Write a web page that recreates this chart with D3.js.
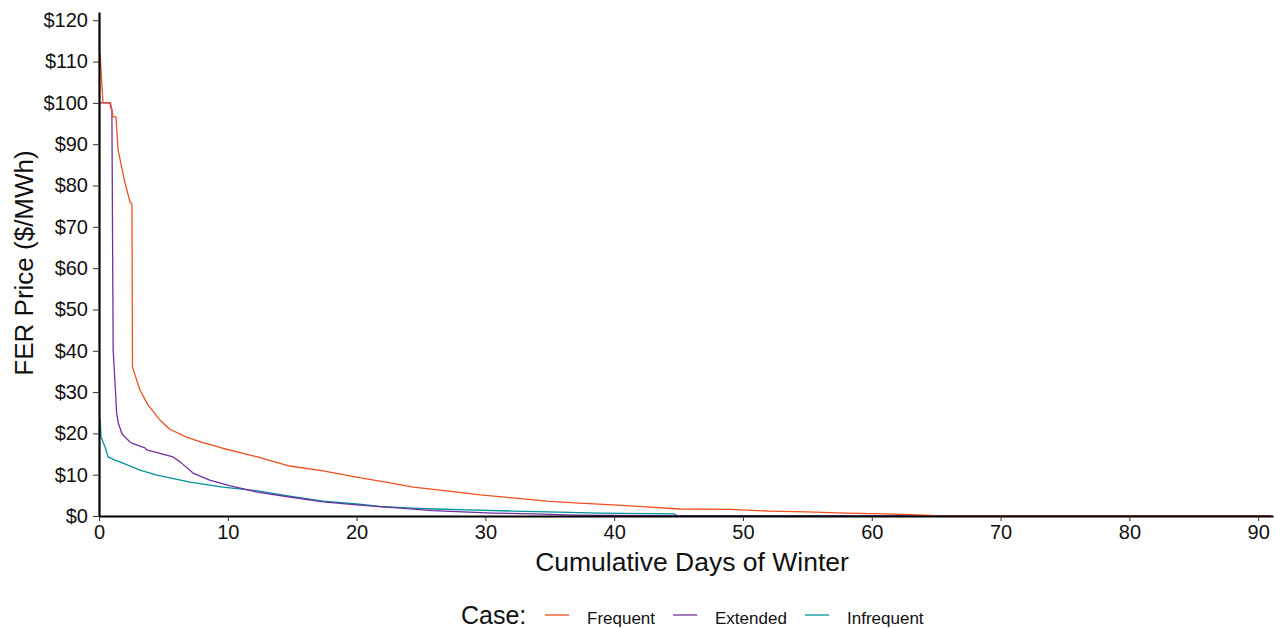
<!DOCTYPE html>
<html>
<head>
<meta charset="utf-8">
<script src="https://cdn.jsdelivr.net/npm/d3@7/dist/d3.min.js"></script>
<style>
  html, body { margin: 0; padding: 0; background: #fff; }
  svg { display: block; font-family: "Liberation Sans", Arial, sans-serif; }
</style>
</head>
<body>
<svg id="chart" width="1275" height="628"></svg>
<script>
// Price duration curves: cumulative days of winter vs FER price ($/MWh)
const caseNames = ["Frequent", "Extended", "Infrequent"];
const caseColors = ["#F0501E", "#7030A0", "#00929A"];

const frequentDays   = [0, 0.08, 0.31, 0.9, 1.09, 1.32, 1.48, 2.02, 2.41, 2.56, 2.6, 2.8, 3.18, 3.8, 4.74, 5.5, 6.8, 8.0, 9.6, 12.3, 14.8, 17.4, 20, 22.6, 24.4, 27, 29.6, 32.1, 34.8, 37.3, 39.9, 42.5, 45.1, 49, 52, 55, 58, 61, 63, 65, 70, 91];
const frequentPrice  = [112, 112, 100, 100, 96.6, 96.6, 88.6, 80.6, 76.0, 75.5, 36.1, 34.1, 30.5, 26.9, 23.2, 21.0, 19.1, 17.8, 16.4, 14.3, 12.1, 10.9, 9.4, 8.0, 7.0, 6.1, 5.1, 4.4, 3.6, 3.1, 2.7, 2.2, 1.7, 1.6, 1.2, 1.0, 0.7, 0.5, 0.3, 0.1, 0, 0];

const extendedDays   = [0, 0.85, 0.95, 1.0, 1.1, 1.24, 1.37, 1.5, 1.76, 1.86, 2.41, 2.64, 3.57, 3.7, 5.75, 6.3, 7.3, 8.6, 10.2, 12.3, 14.8, 17.4, 20, 22.6, 25.9, 30.6, 33.7, 37.1, 45, 91];
const extendedPrice  = [100, 100, 98.5, 98.5, 40.2, 32.5, 24.9, 22.5, 20.1, 19.6, 17.9, 17.5, 16.5, 16.0, 14.3, 13.1, 10.4, 8.7, 7.3, 5.8, 4.6, 3.4, 2.7, 2.1, 1.3, 0.7, 0.5, 0.2, 0, 0];

const infrequentDays  = [0, 0.08, 0.16, 0.47, 0.7, 1.2, 1.86, 3.18, 4.5, 7.07, 9.6, 12.3, 14.8, 17.4, 20, 21.8, 24.3, 26.1, 28.6, 32.1, 34.8, 38.9, 44.6, 45, 91];
const infrequentPrice = [23.5, 23.5, 19.1, 16.7, 14.3, 13.6, 12.8, 11.1, 9.9, 8.2, 7.0, 6.1, 4.8, 3.6, 2.9, 2.3, 1.9, 1.7, 1.5, 1.2, 1.0, 0.7, 0.5, 0, 0];

const xTicks = [0, 10, 20, 30, 40, 50, 60, 70, 80, 90];
const yTicks = [0, 10, 20, 30, 40, 50, 60, 70, 80, 90, 100, 110, 120];

const series = [
  { name: caseNames[0], color: caseColors[0], days: frequentDays, price: frequentPrice },
  { name: caseNames[1], color: caseColors[1], days: extendedDays, price: extendedPrice },
  { name: caseNames[2], color: caseColors[2], days: infrequentDays, price: infrequentPrice }
];

const svg = d3.select("#chart");
const x = d3.scaleLinear().domain([0, 91.15]).range([99, 1273]);
const y = d3.scaleLinear().domain([0, 122]).range([516, 12]);

// Lines (drawn first so axes sit on top)
const line = d3.line().x(d => x(d[0])).y(d => y(d[1]));
const plot = svg.append("g");
[...series].reverse().forEach(s => {
  plot.append("path")
    .datum(s.days.map((d, i) => [d, s.price[i]]))
    .attr("fill", "none")
    .attr("stroke", s.color)
    .attr("stroke-width", 1.3)
    .attr("stroke-linejoin", "round")
    .attr("d", line);
});

// Axes
const xAxis = svg.append("g")
  .attr("transform", `translate(0,${y(0)})`)
  .call(d3.axisBottom(x).tickValues(xTicks).tickSize(5).tickSizeOuter(0).tickPadding(3));
const yAxis = svg.append("g")
  .attr("transform", `translate(${x(0)},0)`)
  .call(d3.axisLeft(y).tickValues(yTicks).tickSize(6).tickSizeOuter(0).tickPadding(5)
    .tickFormat(d => "$" + d));

[xAxis, yAxis].forEach(a => {
  a.select(".domain").attr("stroke", "#000").attr("stroke-width", 2.2);
  a.selectAll(".tick line").attr("stroke", "#333").attr("stroke-width", 1);
  a.selectAll(".tick text").attr("fill", "#111").style("font-size", "20px")
    .style("font-family", "'Liberation Sans', Arial, sans-serif");
});
xAxis.selectAll(".tick text").attr("dy", "0.76em");

// Axis titles
svg.append("text")
  .attr("x", 692).attr("y", 571)
  .attr("text-anchor", "middle")
  .style("font-size", "26.5px").attr("fill", "#111")
  .text("Cumulative Days of Winter");
svg.append("text")
  .attr("transform", "translate(33,263) rotate(-90)")
  .attr("text-anchor", "middle")
  .style("font-size", "26px").attr("fill", "#111")
  .text("FER Price ($/MWh)");

// Legend
const legend = svg.append("g");
legend.append("text")
  .attr("x", 461).attr("y", 624)
  .style("font-size", "25px").attr("fill", "#111")
  .text("Case:");
const legendX = [545, 673, 805];
series.forEach((s, i) => {
  legend.append("line")
    .attr("x1", legendX[i]).attr("x2", legendX[i] + 24)
    .attr("y1", 615).attr("y2", 615)
    .attr("stroke", s.color).attr("stroke-width", 1.3);
  legend.append("text")
    .attr("x", legendX[i] + 42).attr("y", 623.5)
    .style("font-size", "17px").attr("fill", "#111")
    .text(s.name);
});
</script>
</body>
</html>
